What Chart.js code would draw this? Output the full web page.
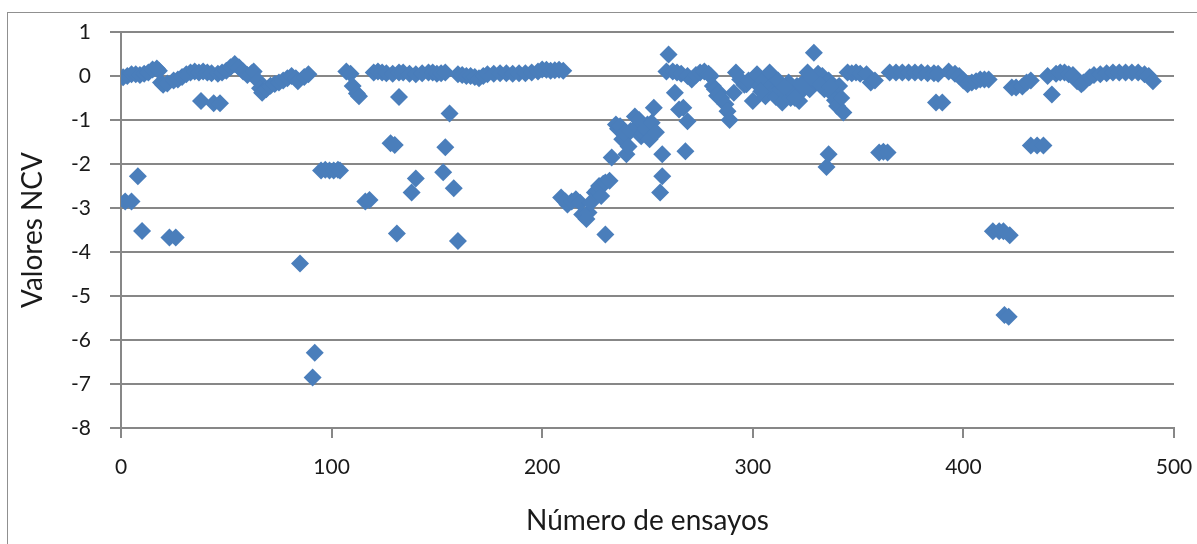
<!DOCTYPE html>
<html>
<head>
<meta charset="utf-8">
<title>Valores NCV</title>
<script src="https://cdn.jsdelivr.net/npm/chart.js@4"></script>
<style>
  html, body { margin: 0; padding: 0; background: #fff; }
  #wrap { position: relative; width: 1197px; height: 544px; overflow: hidden; }
  /* thin frame around the chart object, cut off at the right and bottom */
  #frame { position: absolute; left: 7px; top: 12px; width: 1300px; height: 700px; border: 1px solid #909090; }
  #ncv-chart { position: absolute; left: 0; top: 0; }
</style>
</head>
<body>
<div id="wrap">
  <div id="frame"></div>
  <canvas id="ncv-chart" width="1197" height="544"></canvas>
</div>
<script>
// Data, trial number -> NCV value, split by trial ranges

// trials 0 - 125
const trialsA = [1, 3, 5, 7, 9, 11, 13, 15, 17, 18, 19, 20, 22, 25, 27, 29, 31, 33, 35, 37,
  39, 41, 43, 46, 48, 50, 52, 54, 56, 58, 60, 62, 63, 65, 66, 67, 69, 71, 73, 75,
  77, 79, 81, 83, 84, 87, 89,
  2, 5, 8, 10, 23, 26, 38, 44, 47, 85,
  91, 92, 95, 97, 99, 101, 103, 104,
  107, 109, 110, 112, 113, 116, 118, 120, 122, 124];
const ncvA = [-0.03, 0, 0.04, 0.04, 0.02, 0.05, 0.08, 0.15, 0.17, 0.12, -0.15, -0.2, -0.17, -0.1, -0.08, -0.02, 0.04, 0.08, 0.1, 0.08,
  0.1, 0.08, 0.06, 0.05, 0.08, 0.12, 0.2, 0.27, 0.2, 0.1, 0.02, 0.06, 0.1, -0.1, -0.28, -0.38, -0.3, -0.22, -0.18, -0.15,
  -0.1, -0.05, 0, -0.05, -0.12, -0.02, 0.04,
  -2.85, -2.85, -2.28, -3.52, -3.67, -3.67, -0.57, -0.62, -0.62, -4.26,
  -6.85, -6.29, -2.15, -2.13, -2.15, -2.15, -2.13, -2.15,
  0.1, 0.05, -0.23, -0.4, -0.46, -2.85, -2.82, 0.08, 0.1, 0.08];

// trials 125 - 212
const trialsB = [126, 129, 132, 134, 137, 140, 143, 146, 148, 150, 152, 154, 160, 162, 164, 166, 168, 170, 172, 174,
  177, 180, 183, 186, 189, 192, 195, 198, 200, 202, 204, 206, 208, 210,
  128, 130, 131, 132, 138, 140, 153, 154, 156, 158, 160];
const ncvB = [0.06, 0.05, 0.08, 0.08, 0.05, 0.04, 0.06, 0.08, 0.08, 0.05, 0.06, 0.08, 0.04, 0.02, 0, 0, -0.02, -0.05, 0, 0.04,
  0.05, 0.06, 0.06, 0.05, 0.06, 0.06, 0.08, 0.1, 0.15, 0.14, 0.12, 0.13, 0.14, 0.12,
  -1.53, -1.57, -3.58, -0.48, -2.65, -2.33, -2.19, -1.62, -0.85, -2.55, -3.75];

// trials 209 - 300
const trialsC = [209, 211, 212, 214, 216, 218, 219, 221, 222, 223, 225, 226, 227, 228, 229, 230, 230, 232, 233, 235,
  236, 237, 238, 239, 240, 241, 242, 244, 245, 246, 247, 248, 249, 250, 251, 252, 253, 254, 256, 257, 257,
  259, 260, 262, 263, 264, 265, 266, 267, 268, 269, 269, 271, 273, 275, 277, 279, 280, 281, 282, 283,
  284, 285, 287, 288, 289, 291, 292, 294, 296, 297, 298];
const ncvC = [-2.76, -2.85, -2.92, -2.85, -2.8, -2.88, -3.15, -3.25, -3.1, -2.88, -2.65, -2.6, -2.5, -2.73, -2.45, -2.42, -3.6, -2.38, -1.85, -1.1,
  -1.2, -1.14, -1.44, -1.3, -1.78, -1.6, -1.25, -0.92, -1.14, -1.0, -1.37, -1.3, -1.21, -1.1, -1.44, -1.06, -0.72, -1.28, -2.65, -2.28, -1.78,
  0.1, 0.49, 0.1, -0.38, 0.08, -0.76, 0.05, -0.72, -1.71, -1.03, 0, -0.08, 0.02, 0.08, 0.1, 0.05, 0, -0.23, -0.3, -0.45,
  -0.38, -0.5, -0.64, -0.8, -1.0, -0.38, 0.08, -0.08, -0.2, -0.19, -0.1];

// trials 300 - 400
const trialsD = [300, 302, 303, 305, 306, 308, 309, 310, 311, 313, 314, 316, 317, 318, 319, 321, 322, 324, 325, 326,
  327, 329, 330, 331, 333, 334, 336, 338, 339, 340, 341, 342, 343, 345, 347, 349, 351, 354, 356, 358,
  304, 312, 315, 320, 323, 328, 332, 337,
  365, 368, 371, 374, 377, 380, 383, 386, 388, 393, 396, 398,
  335, 336, 360, 362, 364, 387, 390];
const ncvD = [-0.57, 0.04, -0.23, -0.1, -0.46, 0.08, -0.23, -0.35, -0.48, -0.3, -0.6, -0.4, -0.15, -0.5, -0.38, -0.23, -0.57, -0.3, -0.1, 0.08,
  -0.3, 0.53, -0.15, 0.05, 0, -0.3, -0.1, -0.42, -0.55, -0.68, -0.23, -0.5, -0.83, 0.08, 0.06, 0.08, 0.05, 0.04, -0.15, -0.1,
  -0.35, -0.1, -0.25, -0.5, -0.2, -0.05, -0.2, -0.25,
  0.08, 0.08, 0.08, 0.08, 0.08, 0.08, 0.06, 0.06, 0.05, 0.1, 0.05, 0,
  -2.07, -1.78, -1.74, -1.72, -1.74, -0.6, -0.6];

// trials 400 - 500
const trialsE = [400, 402, 404, 406, 408, 410, 412, 423, 425, 428, 430, 432, 440, 442, 444, 446, 448, 450, 452, 454,
  456, 457, 460, 462, 465, 468, 471, 474, 477, 480, 483, 486, 488, 490,
  414, 417, 419, 422, 419.5, 421.5, 432, 435, 438];
const ncvE = [-0.1, -0.19, -0.15, -0.12, -0.08, -0.08, -0.08, -0.26, -0.26, -0.24, -0.15, -0.1, 0, -0.42, 0.05, 0.08, 0.08, 0.04, 0.02, -0.12,
  -0.19, -0.15, -0.03, 0.02, 0.04, 0.06, 0.08, 0.08, 0.08, 0.08, 0.08, 0.04, 0, -0.12,
  -3.53, -3.53, -3.53, -3.62, -5.43, -5.47, -1.58, -1.58, -1.58];

// Axis settings
const xTitle = 'Número de ensayos';
const yTitle = 'Valores NCV';
const xRange = [0, 500];
const yRange = [-8, 1];

const textColor = '#1a1a1a';
const gridColor = '#878787';
const markerColor = '#4A7EBB';

/**
 * Join the trial/value arrays into {x, y} points for the scatter dataset
 */
function buildPoints() {
  const trials = [...trialsA, ...trialsB, ...trialsC, ...trialsD, ...trialsE];
  const values = [...ncvA, ...ncvB, ...ncvC, ...ncvD, ...ncvE];
  return trials.map((t, i) => ({ x: t, y: values[i] }));
}

const ctx = document.getElementById('ncv-chart').getContext('2d');

new Chart(ctx, {
  type: 'scatter',
  data: {
    datasets: [{
      data: buildPoints(),
      pointStyle: 'rectRot',
      pointRadius: 9,
      pointHoverRadius: 9,
      backgroundColor: markerColor,
      borderColor: markerColor,
      borderWidth: 0,
    }]
  },
  options: {
    responsive: false,
    animation: false,
    layout: {
      padding: { top: 32, right: 23, bottom: 0, left: 0 }
    },
    plugins: {
      legend: { display: false },
      tooltip: { enabled: false }
    },
    scales: {
      x: {
        type: 'linear',
        min: xRange[0],
        max: xRange[1],
        afterFit: function(scale) {
          scale.height = 116; // keep the plot bottom at the -8 line
          // the edge labels fit in the margins, no extra side padding
          scale.paddingLeft = 0;
          scale.paddingRight = 0;
        },
        ticks: {
          stepSize: 100,
          padding: 17,
          color: textColor,
          font: { family: 'Lato', size: 21 }
        },
        grid: {
          drawOnChartArea: false,
          tickLength: 10,
          color: gridColor,
          lineWidth: 2
        },
        border: { color: gridColor, width: 2 },
        title: {
          display: true,
          text: xTitle,
          color: textColor,
          font: { family: 'Lato', size: 28 },
          padding: { top: 0, bottom: 6 }
        }
      },
      y: {
        min: yRange[0],
        max: yRange[1],
        afterFit: function(scale) {
          scale.width = 121;
        },
        ticks: {
          stepSize: 1,
          padding: 19,
          color: textColor,
          font: { family: 'Lato', size: 21 }
        },
        grid: {
          color: gridColor,
          lineWidth: 2,
          tickLength: 11
        },
        border: { color: gridColor, width: 2 },
        title: {
          display: true,
          text: yTitle,
          color: textColor,
          font: { family: 'Lato', size: 28 },
          padding: { top: 16, bottom: 0 }
        }
      }
    }
  }
});
</script>
</body>
</html>
